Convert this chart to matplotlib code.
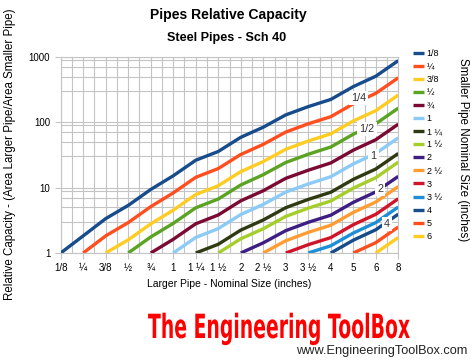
import matplotlib
matplotlib.use("Agg")
import matplotlib.pyplot as plt
from matplotlib import patheffects
from matplotlib.transforms import Affine2D
import numpy as np

# Larger pipe nominal sizes (x categories)
x_labels = ["1/8", "¼", "3/8", "½", "¾", "1", "1 ¼", "1 ½", "2", "2 ½", "3", "3 ½", "4", "5", "6", "8"]
# Smaller pipe nominal sizes (series)
series_names = ["1/8", "¼", "3/8", "½", "¾", "1", "1 ¼", "1 ½", "2", "2 ½", "3", "3 ½", "4", "5", "6"]

# Relative capacity values (each series starts at its own size)
s_1_8 = [1, 1.83, 3.36, 5.35, 9.38, 15.2, 26.3, 35.8, 59.0, 84.2, 130, 174, 224, 352, 508, 880]
s_1_4 = [1, 1.83, 2.92, 5.12, 8.31, 14.4, 19.6, 32.2, 46.0, 71.0, 95.0, 122, 192, 278, 481]
s_3_8 = [1, 1.59, 2.79, 4.53, 7.84, 10.7, 17.6, 25.1, 38.7, 51.8, 66.7, 105, 151, 262]
s_1_2 = [1, 1.76, 2.84, 4.92, 6.70, 11.0, 15.8, 24.3, 32.5, 41.9, 65.8, 95.1, 165]
s_3_4 = [1, 1.62, 2.80, 3.82, 6.29, 8.98, 13.9, 18.5, 23.9, 37.5, 54.2, 93.8]
s_1 = [1, 1.73, 2.36, 3.88, 5.54, 8.55, 11.4, 14.7, 23.1, 33.4, 57.9]
s_1_1_4 = [1, 1.36, 2.24, 3.20, 4.94, 6.61, 8.51, 13.4, 19.3, 33.4]
s_1_1_2 = [1, 1.65, 2.35, 3.63, 4.86, 6.25, 9.83, 14.2, 24.6]
s_2 = [1, 1.43, 2.20, 2.95, 3.79, 5.96, 8.61, 14.9]
s_2_1_2 = [1, 1.54, 2.07, 2.66, 4.18, 6.03, 10.4]
s_3 = [1, 1.34, 1.72, 2.71, 3.91, 6.77]
s_3_1_2 = [1, 1.29, 2.02, 2.92, 5.06]
s_4 = [1, 1.57, 2.27, 3.93]
s_5 = [1, 1.44, 2.50]
s_6 = [1, 1.73]

series_values = [s_1_8, s_1_4, s_3_8, s_1_2, s_3_4, s_1, s_1_1_4, s_1_1_2,
                 s_2, s_2_1_2, s_3, s_3_1_2, s_4, s_5, s_6]

colors = ["#164B8C", "#FF4E1F", "#FFCC22", "#5BA322", "#7A0A33", "#8CCBF5",
          "#2F3A12", "#A6CE2B", "#3F1E84", "#FF9C33", "#D0142A", "#1E8FD6",
          "#164B8C", "#FF4E1F", "#FFCC22"]

# inline labels (text, x position, y value)
inline_labels = [("1/4", 13.23, 234), ("1/2", 13.6, 78.5), ("1", 13.9, 30.6),
                 ("2", 14.19, 9.5), ("4", 14.49, 2.75)]


class Squeeze(patheffects.AbstractPathEffect):
    """Horizontally condense rendered text about a centre, then shift it."""
    def __init__(self, sx, cx, dx):
        super().__init__()
        self.t = Affine2D().translate(-cx, 0).scale(sx, 1).translate(cx + dx, 0)

    def draw_path(self, renderer, gc, tpath, affine, rgbFace=None):
        renderer.draw_path(gc, tpath, affine + self.t, rgbFace)


plt.rcParams['font.family'] = ['Liberation Sans', 'DejaVu Sans']

W, H = 474, 362
fig = plt.figure(figsize=(W / 100, H / 100), dpi=100)
ax = fig.add_axes([60.7 / W, 1 - 253 / H, (398.3 - 60.7) / W, (253 - 57) / H])

grid_c = "#c4c4c4"
for i, vals in enumerate(series_values):
    xs = np.arange(i, i + len(vals))
    ax.plot(xs, vals, color=colors[i], lw=2.4, solid_capstyle='butt',
            label=series_names[i], zorder=3)

ax.set_yscale('log')
ax.set_ylim(1, 1000)
ax.set_xlim(0, len(x_labels) - 1)
ax.set_xticks(np.arange(len(x_labels)))
ax.set_xticklabels(x_labels, fontsize=7)
ax.set_xticks(np.arange(0.5, len(x_labels) - 1, 1.0), minor=True)
ax.set_yticks([1, 10, 100, 1000])
ax.set_yticklabels(["1", "10", "100", "1000"], fontsize=7)
minor_y = []
for d in [1, 10, 100]:
    minor_y += [3 * d, 5 * d, 7 * d, 9 * d]
ax.set_yticks(minor_y, minor=True)
ax.yaxis.set_minor_formatter(matplotlib.ticker.NullFormatter())
ax.grid(True, which='both', color=grid_c, lw=0.8, zorder=0)
ax.tick_params(axis='both', which='major', length=4, color=grid_c, pad=3.5)
ax.tick_params(axis='both', which='minor', length=0)
for sp in ax.spines.values():
    sp.set_color(grid_c)
    sp.set_linewidth(0.8)

for txt, xv, yv in inline_labels:
    ax.text(xv, yv, txt, fontsize=7.8, ha='center', va='center', color='#333333',
            bbox=dict(boxstyle='square,pad=0.2', fc='white', ec='none'), zorder=4)

ax.set_xlabel("Larger Pipe - Nominal Size (inches)", fontsize=7.5, labelpad=4)

fig.text(10 / W, 1 - 154 / H, "Relative Capacity - (Area Larger Pipe/Area Smaller Pipe)",
         rotation=90, fontsize=8.3, ha='center', va='center')
fig.text(463 / W, 1 - 150 / H, "Smaller Pipe Nominal Size (inches)",
         rotation=-90, fontsize=8.4, ha='center', va='center')

fig.text(228 / W, 1 - 15 / H, "Pipes Relative Capacity", fontsize=10.1,
         fontweight='bold', ha='center', va='center')
fig.text(227 / W, 1 - 38 / H, "Steel Pipes - Sch 40", fontsize=9.1,
         fontweight='bold', ha='center', va='center')

handles, labels = ax.get_legend_handles_labels()
leg = fig.legend(handles, labels, loc='upper left', bbox_to_anchor=(413 / W, 1 - 49 / H),
                 fontsize=6.5, frameon=False, handlelength=1.2, handletextpad=0.3,
                 labelspacing=0.45, borderaxespad=0, borderpad=0)

# Logo text: real text, condensed horizontally at render time
logo = fig.text(0.5, 1 - 338 / H, "The Engineering ToolBox", fontsize=24,
                fontweight='bold', color='#ff0000', ha='center', va='baseline',
                family=['DejaVu Sans'])
logo.set_path_effects([Squeeze(0.565, W / 2, 279 - W / 2)])

fig.text(467 / W, 1 - 351 / H, "www.EngineeringToolBox.com", fontsize=9.2,
         ha='right', va='center', color='#222222')

fig.savefig("out.png", dpi=100)
